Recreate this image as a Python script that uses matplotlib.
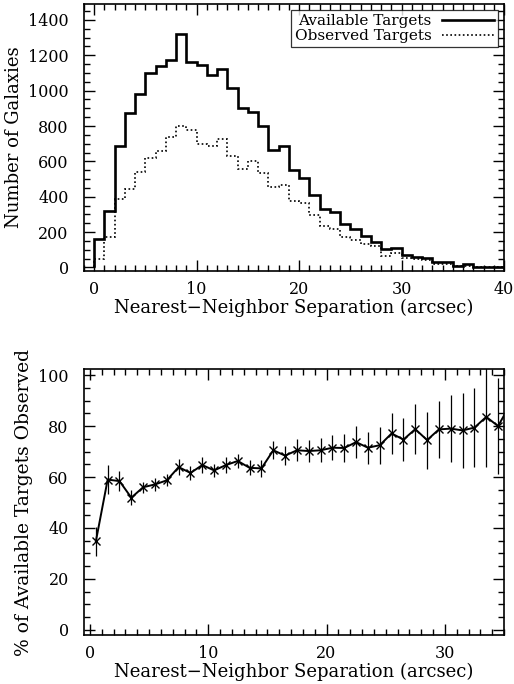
import numpy as np
import matplotlib
matplotlib.use("Agg")
import matplotlib.pyplot as plt
from matplotlib.ticker import MultipleLocator
from matplotlib.lines import Line2D

plt.rcParams['font.family'] = ['DejaVu Serif']

# ---- Data ----
bin_edges = np.arange(0, 41, 1)
available_counts = [162, 318, 685, 874, 983, 1100, 1137, 1171, 1322, 1162,
                    1147, 1090, 1122, 1015, 902, 877, 798, 667, 685, 550,
                    507, 407, 331, 312, 243, 218, 177, 145, 102, 111,
                    73, 60, 55, 30, 30, 11, 17, 5, 3, 2]
observed_counts = [49, 173, 388, 441, 538, 620, 657, 738, 798, 780,
                   700, 689, 727, 633, 558, 600, 535, 456, 469, 375,
                   365, 294, 233, 218, 171, 158, 130, 124, 64, 83,
                   55, 49, 45, 21, 17, 8, 10, 3, 2, 1]

sep_centers = np.arange(0.5, 36.0, 1.0)
pct_observed = [34.7, 59.0, 58.4, 51.9, 56.0, 57.1, 58.7, 63.9, 61.6, 64.7,
                62.6, 64.7, 66.3, 63.6, 63.4, 70.5, 68.4, 70.5, 70.2, 70.5,
                71.5, 71.4, 73.7, 71.5, 72.5, 77.1, 74.7, 78.8, 74.5, 78.7,
                79.0, 78.3, 79.4, 83.6, 80.0, 88.3]
pct_err = [5.6, 5.6, 4.0, 2.9, 2.2, 2.6, 2.4, 3.0, 2.8, 3.2,
           2.7, 3.2, 2.9, 2.9, 3.3, 3.6, 3.8, 4.3, 4.3, 4.7,
           4.9, 5.6, 6.2, 6.3, 7.2, 8.0, 8.5, 9.8, 11.2, 11.2,
           13.2, 14.7, 15.4, 19.7, 18.7, 20.0]

xlabel = "Nearest\u2212Neighbor Separation (arcsec)"

fig = plt.figure(figsize=(5.14, 6.84), dpi=100)
W, H = 514, 684
ax1 = fig.add_axes([84 / W, 1 - 271 / H, 420 / W, 267 / H])
ax2 = fig.add_axes([84 / W, 1 - 635 / H, 420 / W, 266 / H])

# ---- Top panel ----
ax1.stairs(available_counts, bin_edges, baseline=0, color='black', linewidth=1.9)
ax1.stairs(observed_counts, bin_edges, baseline=0, color='black', linewidth=1.2,
           linestyle=(0, (1, 1.5)))
ax1.set_xlim(-1, 40)
ax1.set_ylim(-20, 1490)
ax1.xaxis.set_major_locator(MultipleLocator(10))
ax1.xaxis.set_minor_locator(MultipleLocator(1))
ax1.yaxis.set_major_locator(MultipleLocator(200))
ax1.yaxis.set_minor_locator(MultipleLocator(50))
ax1.set_xlabel(xlabel, fontsize=13, labelpad=1)
ax1.set_ylabel("Number of Galaxies", fontsize=13, labelpad=4)

handles = [Line2D([], [], color='black', linewidth=1.9),
           Line2D([], [], color='black', linewidth=1.2, linestyle=(0, (1, 1.5)))]
leg = ax1.legend(handles, ["Available Targets", "Observed Targets"],
                 loc='upper right', markerfirst=False, fontsize=11,
                 frameon=True, fancybox=False, edgecolor='black',
                 borderpad=0.25, labelspacing=0.1, handlelength=3.4,
                 handletextpad=0.7, borderaxespad=0.4)
leg.get_frame().set_linewidth(0.9)

# ---- Bottom panel ----
ax2.errorbar(sep_centers, pct_observed, yerr=pct_err, color='black',
             linewidth=1.4, marker='x', markersize=6, markeredgewidth=1.0,
             elinewidth=0.9, capsize=0, clip_on=True)
ax2.set_xlim(-0.5, 35)
ax2.set_ylim(-2, 102.4)
ax2.xaxis.set_major_locator(MultipleLocator(10))
ax2.xaxis.set_minor_locator(MultipleLocator(1))
ax2.yaxis.set_major_locator(MultipleLocator(20))
ax2.yaxis.set_minor_locator(MultipleLocator(5))
ax2.set_xlabel(xlabel, fontsize=13, labelpad=1)
ax2.set_ylabel("% of Available Targets Observed", fontsize=13.5, labelpad=4)

for ax in (ax1, ax2):
    ax.tick_params(which='both', direction='in', top=True, right=True,
                   labelsize=11.5, width=1.0)
    ax.tick_params(which='major', length=8)
    ax.tick_params(which='minor', length=4)
    ax.tick_params(axis='x', which='major', pad=7)
    ax.tick_params(axis='y', which='major', pad=11)
    for sp in ax.spines.values():
        sp.set_linewidth(1.2)

fig.savefig("out.png", dpi=100)
